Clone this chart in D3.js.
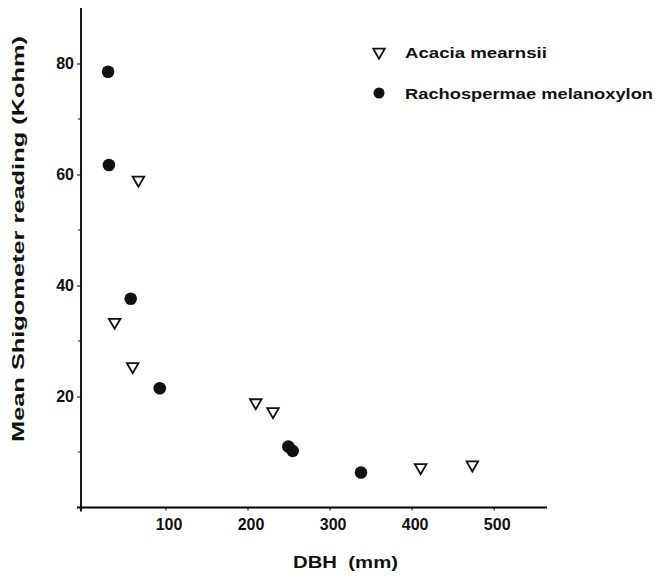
<!DOCTYPE html>
<html>
<head>
<meta charset="utf-8">
<script src="https://cdn.jsdelivr.net/npm/d3@7"></script>
<style>
  body { margin: 0; background: #fff; }
  svg text { font-family: "Liberation Sans", Arial, sans-serif; font-weight: bold; fill: #111; }
</style>
</head>
<body>
<div id="chart"></div>
<script>
// DBH (mm) and mean Shigometer reading (Kohm)
const acaciaDBH = [67, 38, 60, 210, 231, 411, 474];
const acaciaKohm = [59, 33.4, 25.4, 18.9, 17.3, 7.2, 7.7];

const rachoDBH = [30, 31, 57.6, 93, 249.7, 255, 338.3];
const rachoKohm = [78.5, 61.7, 37.6, 21.5, 11.0, 10.2, 6.3];

const xTicks = [100, 200, 300, 400, 500];
const yTicks = [20, 40, 60, 80];
const yMinorTicks = [10, 30, 50, 70];

const seriesNames = ['Acacia mearnsii', 'Rachospermae melanoxylon'];

const width = 668;
const height = 578;

const svg = d3.select('#chart')
  .append('svg')
  .attr('width', width)
  .attr('height', height)

const xScale = d3.scaleLinear()
  .domain([-3, 565])
  .range([81, 547])

const yScale = d3.scaleLinear()
  .domain([0, 90])
  .range([507.5, 8])

// axes
const xAxis = d3.axisBottom(xScale)
  .tickValues(xTicks)
  .tickSize(3)
  .tickSizeOuter(0)
  .tickPadding(8)
  .tickFormat(d3.format('d'))

const yAxis = d3.axisLeft(yScale)
  .tickValues(yTicks)
  .tickSize(4)
  .tickSizeOuter(0)
  .tickPadding(3)

const gx = svg.append('g')
  .attr('transform', `translate(0, ${yScale(0)})`)
  .call(xAxis)

gx.select('.domain')
  .attr('d', `M${xScale(-3) - 4},0H${xScale(565)}`)
  .attr('stroke-width', 1.8)

gx.selectAll('text')
  .style('font-size', '16px')
  .attr('dx', 3)

const gy = svg.append('g')
  .attr('transform', `translate(${xScale(-3)}, 0)`)
  .call(yAxis)

gy.select('.domain')
  .attr('d', `M0,${yScale(90)}V${yScale(0) + 4}`)
  .attr('stroke-width', 1.8)

gy.selectAll('text')
  .style('font-size', '16px')

gy.selectAll('.minor')
  .data(yMinorTicks)
  .enter()
  .append('line')
  .attr('class', 'minor')
  .attr('x1', -3)
  .attr('x2', 0)
  .attr('y1', d => yScale(d))
  .attr('y2', d => yScale(d))
  .attr('stroke', '#111')

// axis titles
svg.append('text')
  .attr('x', 293)
  .attr('y', 568)
  .attr('textLength', 105)
  .attr('lengthAdjust', 'spacingAndGlyphs')
  .style('font-size', '17px')
  .style('white-space', 'pre')
  .text('DBH  (mm)')

svg.append('text')
  .attr('transform', 'translate(24, 442) rotate(-90)')
  .attr('textLength', 406)
  .attr('lengthAdjust', 'spacingAndGlyphs')
  .style('font-size', '17px')
  .text('Mean Shigometer reading (Kohm)')

// points
const triangle = d3.symbol().type(d3.symbolTriangle).size(58);

svg.selectAll('.acacia')
  .data(acaciaDBH)
  .enter()
  .append('path')
  .attr('class', 'acacia')
  .attr('d', triangle)
  .attr('transform', (d, i) => `translate(${xScale(d)}, ${yScale(acaciaKohm[i])}) rotate(180)`)
  .attr('fill', '#fff')
  .attr('stroke', '#111')
  .attr('stroke-width', 1.8)

svg.selectAll('.racho')
  .data(rachoDBH)
  .enter()
  .append('circle')
  .attr('class', 'racho')
  .attr('cx', d => xScale(d))
  .attr('cy', (d, i) => yScale(rachoKohm[i]))
  .attr('r', 6.3)
  .attr('fill', '#111')

// legend
const legend = svg.append('g')

legend.append('path')
  .attr('d', triangle)
  .attr('transform', 'translate(379, 52) rotate(180)')
  .attr('fill', '#fff')
  .attr('stroke', '#111')
  .attr('stroke-width', 1.8)

legend.append('circle')
  .attr('cx', 379)
  .attr('cy', 93)
  .attr('r', 5.5)
  .attr('fill', '#111')

legend.selectAll('.label')
  .data(seriesNames)
  .enter()
  .append('text')
  .attr('class', 'label')
  .attr('x', 405)
  .attr('y', (d, i) => 58 + i * 41)
  .attr('textLength', (d, i) => i === 0 ? 142 : 248)
  .attr('lengthAdjust', 'spacingAndGlyphs')
  .style('font-size', '15px')
  .text(d => d)
</script>
</body>
</html>
